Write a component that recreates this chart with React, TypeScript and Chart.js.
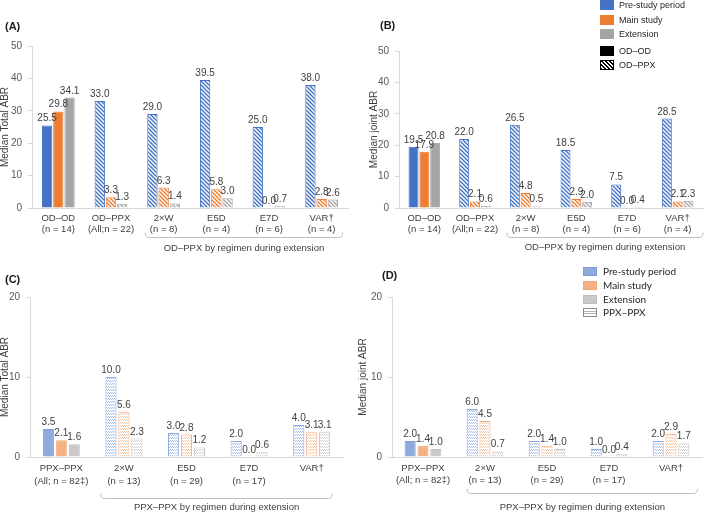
import React, { useEffect, useRef } from "react";
import { Chart, registerables } from "chart.js";
Chart.register(...registerables);

const FONT = "'Liberation Sans', Arial, sans-serif";

// ---------- data ----------
const odCategories = [
  ["OD–OD", "(n = 14)"],
  ["OD–PPX", "(All;n = 22)"],
  ["2×W", "(n = 8)"],
  ["E5D", "(n = 4)"],
  ["E7D", "(n = 6)"],
  ["VAR†", "(n = 4)"],
];
const totalOdPre = [25.5, 33.0, 29.0, 39.5, 25.0, 38.0];
const totalOdMain = [29.8, 3.3, 6.3, 5.8, 0.0, 2.8];
const totalOdExt = [34.1, 1.3, 1.4, 3.0, 0.7, 2.6];
const jointOdPre = [19.5, 22.0, 26.5, 18.5, 7.5, 28.5];
const jointOdMain = [17.9, 2.1, 4.8, 2.9, 0.0, 2.1];
const jointOdExt = [20.8, 0.6, 0.5, 2.0, 0.4, 2.3];

const ppxCategories = [
  ["PPX–PPX", "(All; n = 82‡)"],
  ["2×W", "(n = 13)"],
  ["E5D", "(n = 29)"],
  ["E7D", "(n = 17)"],
  "VAR†",
];
const totalPpxPre = [3.5, 10.0, 3.0, 2.0, 4.0];
const totalPpxMain = [2.1, 5.6, 2.8, 0.0, 3.1];
const totalPpxExt = [1.6, 2.3, 1.2, 0.6, 3.1];
const jointPpxPre = [2.0, 6.0, 2.0, 1.0, 2.0];
const jointPpxMain = [1.4, 4.5, 1.4, 0.0, 2.9];
const jointPpxExt = [1.0, 0.7, 1.0, 0.4, 1.7];

const periodNames = ["Pre-study period", "Main study", "Extension"];
const odYMax = 50;
const ppxYMax = 20;
const yStep = 10;
const odBracketText = "OD–PPX by regimen during extension";
const ppxBracketText = "PPX–PPX by regimen during extension";

// ---------- patterns ----------
function diagPattern(color: string) {
  const c = document.createElement("canvas");
  c.width = 4;
  c.height = 4;
  const x = c.getContext("2d")!;
  x.fillStyle = "#fff";
  x.fillRect(0, 0, 4, 4);
  x.strokeStyle = color;
  x.lineWidth = 1.4;
  x.beginPath();
  x.moveTo(-1, -1);
  x.lineTo(5, 5);
  x.moveTo(-1, 3);
  x.lineTo(1, 5);
  x.moveTo(3, -1);
  x.lineTo(5, 1);
  x.stroke();
  return x.createPattern(c, "repeat")!;
}
function wavePattern(color: string) {
  const c = document.createElement("canvas");
  c.width = 4;
  c.height = 3;
  const x = c.getContext("2d")!;
  x.fillStyle = "#fff";
  x.fillRect(0, 0, 4, 3);
  x.fillStyle = color;
  x.fillRect(0, 0, 1, 1);
  x.fillRect(2, 0, 1, 1);
  x.fillRect(1, 1, 1, 1);
  x.fillRect(3, 1, 1, 1);
  return x.createPattern(c, "repeat")!;
}

// ---------- plugins ----------
const valueLabels = {
  id: "valueLabels",
  afterDatasetsDraw(chart: any) {
    const ctx = chart.ctx;
    ctx.save();
    ctx.font = `10px ${FONT}`;
    ctx.fillStyle = "#404040";
    ctx.textAlign = "center";
    ctx.textBaseline = "alphabetic";
    chart.data.datasets.forEach((ds: any, i: number) => {
      const meta = chart.getDatasetMeta(i);
      meta.data.forEach((el: any, j: number) => {
        ctx.fillText(Number(ds.data[j]).toFixed(1), el.x, el.y - 4);
      });
    });
    ctx.restore();
  },
};

const bracket = {
  id: "bracket",
  afterDraw(chart: any, _args: any, opts: any) {
    if (!opts || !opts.label) return;
    const xs = chart.scales.x;
    const n = chart.data.labels.length;
    const w = (xs.right - xs.left) / n;
    const x0 = xs.getPixelForValue(opts.startIndex) - opts.leftFrac * w;
    const x1 = xs.getPixelForValue(n - 1) + opts.rightFrac * w;
    const y = opts.y + 0.5;
    const ctx = chart.ctx;
    ctx.save();
    ctx.strokeStyle = "#BFBFBF";
    ctx.lineWidth = 1;
    ctx.beginPath();
    ctx.moveTo(x0, y - 5);
    ctx.quadraticCurveTo(x0, y, x0 + 4, y);
    ctx.lineTo(x1 - 4, y);
    ctx.quadraticCurveTo(x1, y, x1, y - 5);
    ctx.stroke();
    ctx.font = `9.5px ${FONT}`;
    ctx.fillStyle = "#404040";
    ctx.textAlign = "center";
    ctx.textBaseline = "middle";
    ctx.fillText(opts.label, (x0 + x1) / 2, opts.textY);
    ctx.restore();
  },
};

type Spec = {
  left: number;
  top: number;
  width: number;
  height: number;
  categories: any[];
  series: number[][];
  yTitle: string;
  yMax: number;
  solid: string[];
  solidBorder: string[];
  patColor: string[];
  patBorder: string[];
  kind: "diag" | "wave";
  padding: { top: number; left: number; right: number; bottom: number };
  yWidth: number;
  xHeight: number;
  catPct: number;
  barPct: number;
  lineHeight: number;
  bracket: any;
};

function Panel({ spec }: { spec: Spec }) {
  const ref = useRef<HTMLCanvasElement>(null);
  useEffect(() => {
    const canvas = ref.current!;
    const n = spec.categories.length;
    const datasets = spec.series.map((data, k) => {
      const pat = spec.kind === "diag" ? diagPattern(spec.patColor[k]) : wavePattern(spec.patColor[k]);
      return {
        label: periodNames[k],
        data,
        backgroundColor: Array.from({ length: n }, (_, i) => (i === 0 ? spec.solid[k] : pat)),
        borderColor: Array.from({ length: n }, (_, i) => (i === 0 ? spec.solidBorder[k] : spec.patBorder[k])),
        borderWidth: 1,
        categoryPercentage: spec.catPct,
        barPercentage: spec.barPct,
      };
    });
    const chart = new Chart(canvas, {
      type: "bar",
      data: { labels: spec.categories, datasets },
      options: {
        responsive: false,
        maintainAspectRatio: false,
        devicePixelRatio: 1,
        animation: false,
        layout: { padding: spec.padding },
        plugins: {
          legend: { display: false },
          tooltip: { enabled: false },
          bracket: spec.bracket,
        } as any,
        scales: {
          x: {
            grid: { display: false, drawTicks: false },
            border: { display: true, color: "#D9D9D9" },
            ticks: {
              font: { family: FONT, size: 9.5, lineHeight: spec.lineHeight },
              color: "#404040",
              padding: 5,
              maxRotation: 0,
              autoSkip: false,
            },
            afterFit: (s: any) => {
              s.height = spec.xHeight;
            },
          },
          y: {
            min: 0,
            max: spec.yMax,
            ticks: {
              stepSize: yStep,
              font: { family: FONT, size: 10 },
              color: "#595959",
              padding: 6,
            },
            grid: {
              display: true,
              drawOnChartArea: false,
              drawTicks: true,
              tickLength: 4,
              color: "#D9D9D9",
            },
            border: { display: true, color: "#D9D9D9" },
            title: {
              display: true,
              text: spec.yTitle,
              font: { family: FONT, size: 10 },
              color: "#404040",
              padding: { top: -1, bottom: 0 },
            },
            afterFit: (s: any) => {
              s.width = spec.yWidth;
            },
          },
        },
      } as any,
      plugins: [valueLabels, bracket],
    });
    return () => chart.destroy();
  }, [spec]);
  return (
    <canvas
      ref={ref}
      width={spec.width}
      height={spec.height}
      style={{ position: "absolute", left: spec.left, top: spec.top, width: spec.width, height: spec.height }}
    />
  );
}

const odSolid = ["#4472C4", "#ED7D31", "#A5A5A5"];
const ppxSolid = ["#8FAADC", "#F4B183", "#C9C9C9"];

const specA: Spec = {
  left: 0, top: 0, width: 355, height: 260,
  categories: odCategories,
  series: [totalOdPre, totalOdMain, totalOdExt],
  yTitle: "Median Total ABR", yMax: odYMax,
  solid: odSolid, solidBorder: odSolid, patColor: ["#4472C4", "#ED7D31", "#A5A5A5"], patBorder: odSolid,
  kind: "diag",
  padding: { top: 46, left: 0, right: 7, bottom: 2 }, yWidth: 32, xHeight: 50,
  catPct: 0.64, barPct: 0.92, lineHeight: 1.15,
  bracket: { label: odBracketText, startIndex: 2, leftFrac: 0.35, rightFrac: 0.4, y: 237, textY: 248 },
};
const specB: Spec = {
  left: 355, top: 0, width: 354, height: 260,
  categories: odCategories,
  series: [jointOdPre, jointOdMain, jointOdExt],
  yTitle: "Median joint ABR", yMax: odYMax,
  solid: odSolid, solidBorder: odSolid, patColor: ["#4472C4", "#ED7D31", "#A5A5A5"], patBorder: odSolid,
  kind: "diag",
  padding: { top: 51, left: 14, right: 6, bottom: 2 }, yWidth: 30, xHeight: 50,
  catPct: 0.64, barPct: 0.92, lineHeight: 1.15,
  bracket: { label: odBracketText, startIndex: 2, leftFrac: 0.37, rightFrac: 0.5, y: 237, textY: 247 },
};
const specC: Spec = {
  left: 0, top: 260, width: 355, height: 254,
  categories: ppxCategories,
  series: [totalPpxPre, totalPpxMain, totalPpxExt],
  yTitle: "Median Total ABR", yMax: ppxYMax,
  solid: ppxSolid, solidBorder: ["#7F9BD6", "#F0A877", "#BDBDBD"], patColor: ["#A9BFEA", "#F8C7A3", "#D2D2D2"], patBorder: ["#8FAADC", "#F4B183", "#C4C4C4"],
  kind: "wave",
  padding: { top: 37, left: 0, right: 12, bottom: 7 }, yWidth: 30, xHeight: 50,
  catPct: 0.62, barPct: 0.86, lineHeight: 1.35,
  bracket: { label: ppxBracketText, startIndex: 1, leftFrac: 0.37, rightFrac: 0.33, y: 238, textY: 247 },
};
const specD: Spec = {
  left: 355, top: 260, width: 354, height: 254,
  categories: ppxCategories,
  series: [jointPpxPre, jointPpxMain, jointPpxExt],
  yTitle: "Median joint ABR", yMax: ppxYMax,
  solid: ppxSolid, solidBorder: ["#7F9BD6", "#F0A877", "#BDBDBD"], patColor: ["#A9BFEA", "#F8C7A3", "#D2D2D2"], patBorder: ["#8FAADC", "#F4B183", "#C4C4C4"],
  kind: "wave",
  padding: { top: 37, left: 3, right: 7, bottom: 7 }, yWidth: 34, xHeight: 50,
  catPct: 0.62, barPct: 0.86, lineHeight: 1.3,
  bracket: { label: ppxBracketText, startIndex: 1, leftFrac: 0.29, rightFrac: 0.43, y: 233, textY: 247 },
};

const legendB = [
  { label: periodNames[0], bg: "#4472C4", border: "none", y: 5 },
  { label: periodNames[1], bg: "#ED7D31", border: "none", y: 20 },
  { label: periodNames[2], bg: "#A5A5A5", border: "none", y: 34 },
  { label: "OD–OD", bg: "#000", border: "none", y: 51 },
  {
    label: "OD–PPX",
    bg: "repeating-linear-gradient(45deg, #000 0 1.4px, #fff 1.4px 2.8px)",
    border: "1px solid #000",
    y: 65,
  },
];
const legendD = [
  { label: periodNames[0], bg: "#8FAADC", border: "1px solid #7F9BD6", y: 271 },
  { label: periodNames[1], bg: "#F4B183", border: "1px solid #F0A877", y: 285 },
  { label: periodNames[2], bg: "#C9C9C9", border: "1px solid #BDBDBD", y: 299 },
  {
    label: "PPX–PPX",
    bg: "repeating-linear-gradient(0deg, #fff 0 1.5px, #B5B5B5 1.5px 2.5px)",
    border: "1px solid #8C8C8C",
    y: 312,
  },
];

function Legend({ items, x, sw, sh, tx, font, size }: any) {
  return (
    <>
      {items.map((it: any) => (
        <React.Fragment key={it.label}>
          <div
            style={{
              position: "absolute",
              left: x,
              top: it.y - sh / 2,
              width: sw,
              height: sh,
              boxSizing: "border-box",
              background: it.bg,
              border: it.border,
            }}
          />
          <div
            style={{
              position: "absolute",
              left: tx,
              top: it.y - 7,
              height: 14,
              lineHeight: "14px",
              fontFamily: font,
              fontSize: size,
              color: "#262626",
              whiteSpace: "nowrap",
            }}
          >
            {it.label}
          </div>
        </React.Fragment>
      ))}
    </>
  );
}

const letterStyle = (left: number, top: number): React.CSSProperties => ({
  position: "absolute",
  left,
  top,
  fontFamily: FONT,
  fontWeight: "bold",
  fontSize: 11,
  lineHeight: "12px",
  color: "#1a1a1a",
});

export default function App() {
  return (
    <div style={{ position: "fixed", left: 0, top: 0, width: 709, height: 514, background: "#fff", overflow: "hidden" }}>
      <Panel spec={specA} />
      <Panel spec={specB} />
      <Panel spec={specC} />
      <Panel spec={specD} />
      <div style={letterStyle(5, 20)}>(A)</div>
      <div style={letterStyle(380, 19)}>(B)</div>
      <div style={letterStyle(5, 273)}>(C)</div>
      <div style={letterStyle(382, 269)}>(D)</div>
      <Legend items={legendB} x={600} sw={14} sh={10} tx={619} font={FONT} size={9} />
      <Legend items={legendD} x={583} sw={14} sh={9} tx={603} font={"Lato, 'Liberation Sans', sans-serif"} size={10} />
    </div>
  );
}
